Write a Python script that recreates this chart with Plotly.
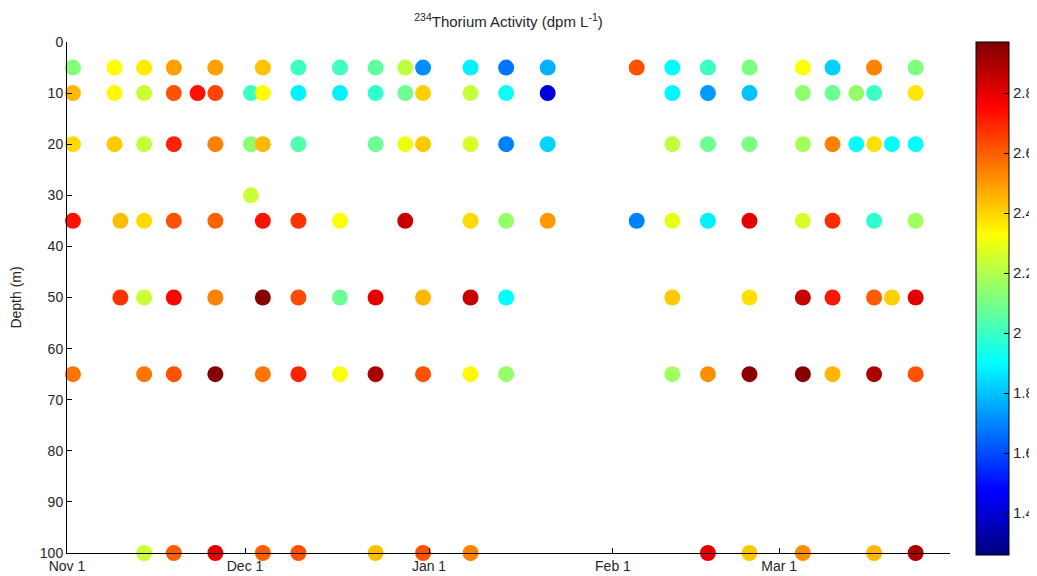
import plotly.graph_objects as go

# ---- data ----
dates_5 = ["2010-11-02", "2010-11-09", "2010-11-14", "2010-11-19", "2010-11-26", "2010-12-04",
           "2010-12-10", "2010-12-17", "2010-12-23", "2010-12-28", "2010-12-31", "2011-01-08",
           "2011-01-14", "2011-01-21", "2011-02-05", "2011-02-11", "2011-02-17", "2011-02-24",
           "2011-03-05", "2011-03-10", "2011-03-17", "2011-03-24"]
thorium_5 = [2.12, 2.33, 2.36, 2.49, 2.49, 2.43, 2.00, 2.01, 2.06, 2.22, 1.71, 1.88,
             1.67, 1.77, 2.62, 1.90, 2.00, 2.11, 2.32, 1.82, 2.54, 2.11]

dates_10 = ["2010-11-02", "2010-11-09", "2010-11-14", "2010-11-19", "2010-11-23", "2010-11-26",
            "2010-12-02", "2010-12-04", "2010-12-10", "2010-12-17", "2010-12-23", "2010-12-28",
            "2010-12-31", "2011-01-08", "2011-01-14", "2011-01-21", "2011-02-11", "2011-02-17",
            "2011-02-24", "2011-03-05", "2011-03-10", "2011-03-14", "2011-03-17", "2011-03-24"]
thorium_10 = [2.45, 2.34, 2.24, 2.62, 2.73, 2.64, 2.00, 2.33, 1.88, 1.88, 1.98, 2.08,
              2.41, 2.23, 1.92, 1.42, 1.89, 1.73, 1.80, 2.14, 2.08, 2.15, 2.00, 2.37]

dates_20 = ["2010-11-02", "2010-11-09", "2010-11-14", "2010-11-19", "2010-11-26", "2010-12-02",
            "2010-12-04", "2010-12-10", "2010-12-23", "2010-12-28", "2010-12-31", "2011-01-08",
            "2011-01-14", "2011-01-21", "2011-02-11", "2011-02-17", "2011-02-24", "2011-03-05",
            "2011-03-10", "2011-03-14", "2011-03-17", "2011-03-20", "2011-03-24"]
thorium_20 = [2.39, 2.42, 2.23, 2.70, 2.54, 2.14, 2.45, 2.04, 2.08, 2.30, 2.42, 2.26,
              1.69, 1.83, 2.22, 2.08, 2.11, 2.18, 2.54, 1.90, 2.38, 1.90, 1.90]

dates_30 = ["2010-12-02"]
thorium_30 = [2.24]

dates_35 = ["2010-11-02", "2010-11-10", "2010-11-14", "2010-11-19", "2010-11-26", "2010-12-04",
            "2010-12-10", "2010-12-17", "2010-12-28", "2011-01-08", "2011-01-14", "2011-01-21",
            "2011-02-05", "2011-02-11", "2011-02-17", "2011-02-24", "2011-03-05", "2011-03-10",
            "2011-03-17", "2011-03-24"]
thorium_35 = [2.73, 2.44, 2.39, 2.62, 2.59, 2.73, 2.67, 2.32, 2.85, 2.39, 2.15, 2.50,
              1.69, 2.29, 1.88, 2.80, 2.26, 2.68, 1.98, 2.17]

dates_50 = ["2010-11-10", "2010-11-14", "2010-11-19", "2010-11-26", "2010-12-04", "2010-12-10",
            "2010-12-17", "2010-12-23", "2010-12-31", "2011-01-08", "2011-01-14", "2011-02-11",
            "2011-02-24", "2011-03-05", "2011-03-10", "2011-03-17", "2011-03-20", "2011-03-24"]
thorium_50 = [2.67, 2.24, 2.75, 2.54, 2.96, 2.63, 2.08, 2.80, 2.45, 2.85, 1.90, 2.42,
              2.38, 2.85, 2.72, 2.60, 2.41, 2.80]

dates_65 = ["2010-11-02", "2010-11-14", "2010-11-19", "2010-11-26", "2010-12-04", "2010-12-10",
            "2010-12-17", "2010-12-23", "2010-12-31", "2011-01-08", "2011-01-14", "2011-02-11",
            "2011-02-17", "2011-02-24", "2011-03-05", "2011-03-10", "2011-03-17", "2011-03-24"]
thorium_65 = [2.56, 2.56, 2.62, 2.96, 2.56, 2.70, 2.32, 2.90, 2.62, 2.34, 2.15, 2.17,
              2.52, 2.95, 2.96, 2.45, 2.90, 2.62]

dates_100 = ["2010-11-14", "2010-11-19", "2010-11-26", "2010-12-04", "2010-12-10", "2010-12-23",
             "2010-12-31", "2011-01-08", "2011-02-17", "2011-02-24", "2011-03-05", "2011-03-17",
             "2011-03-24"]
thorium_100 = [2.24, 2.60, 2.80, 2.60, 2.62, 2.44, 2.62, 2.54, 2.80, 2.42, 2.52, 2.45, 2.90]

depth_levels = [5, 10, 20, 30, 35, 50, 65, 100]
date_rows = [dates_5, dates_10, dates_20, dates_30, dates_35, dates_50, dates_65, dates_100]
value_rows = [thorium_5, thorium_10, thorium_20, thorium_30, thorium_35, thorium_50, thorium_65, thorium_100]

x_tickvals = ["2010-11-01", "2010-12-01", "2011-01-01", "2011-02-01", "2011-03-01"]
x_ticktext = ["Nov 1", "Dec 1", "Jan 1", "Feb 1", "Mar 1"]
y_tickvals = [0, 10, 20, 30, 40, 50, 60, 70, 80, 90, 100]
cbar_tickvals = [1.4, 1.6, 1.8, 2.0, 2.2, 2.4, 2.6, 2.8]
cbar_ticktext = ["1.4", "1.6", "1.8", "2", "2.2", "2.4", "2.6", "2.8"]

# ---- build flat sample table ----
xs, ys, cs = [], [], []
for d, dl, vl in zip(depth_levels, date_rows, value_rows):
    for dt, v in zip(dl, vl):
        xs.append(dt)
        ys.append(d)
        cs.append(v)
# draw in date order so later samples overlap earlier ones
order = sorted(range(len(xs)), key=lambda i: (ys[i], xs[i]))
xs = [xs[i] for i in order]
ys = [ys[i] for i in order]
cs = [cs[i] for i in order]

jet = [
    [0.0, "rgb(0,0,128)"],
    [0.125, "rgb(0,0,255)"],
    [0.375, "rgb(0,255,255)"],
    [0.625, "rgb(255,255,0)"],
    [0.875, "rgb(255,0,0)"],
    [1.0, "rgb(128,0,0)"],
]

FONT = "Liberation Sans, Arial, sans-serif"
TXT = "#262626"

# page body has an 8px default margin, so the figure is sized/offset to compensate
W, H = 1029, 568

fig = go.Figure()
fig.add_trace(go.Scatter(
    x=xs, y=ys, mode="markers", cliponaxis=False,
    marker=dict(
        size=16, color=cs, colorscale=jet, cmin=1.26, cmax=2.97,
        line=dict(width=0),
        colorbar=dict(
            x=1.0294, xanchor="left", xpad=0, ypad=0,
            y=1.0, yanchor="top", lenmode="pixels", len=513,
            thicknessmode="pixels", thickness=33,
            outlinewidth=1, outlinecolor="black",
            tickvals=cbar_tickvals, ticktext=cbar_ticktext,
            ticks="inside", ticklen=5, tickcolor="black",
            tickfont=dict(family=FONT, size=15, color=TXT),
        ),
    ),
    hoverinfo="skip", showlegend=False,
))

fig.update_layout(
    width=W, height=H,
    margin=dict(l=59, r=87, t=34, b=23, autoexpand=False),
    paper_bgcolor="white", plot_bgcolor="white",
    font=dict(family=FONT, size=14, color=TXT),
    title=dict(
        text="<sup>234</sup>Thorium Activity (dpm L<sup>-1</sup>)",
        x=0.5, xref="paper", xanchor="center",
        y=1 - 14 / H, yref="container", yanchor="middle",
        font=dict(family=FONT, size=15, color=TXT),
    ),
    xaxis=dict(
        type="date",
        range=["2010-11-01", "2011-03-29 19:00"],
        tickvals=x_tickvals, ticktext=x_ticktext,
        ticks="inside", ticklen=5, tickcolor="black",
        showline=True, linecolor="black", linewidth=1, mirror=False,
        showgrid=False, zeroline=False, automargin=False,
        tickfont=dict(family=FONT, size=14, color=TXT),
    ),
    yaxis=dict(
        range=[100, 0],
        tickvals=y_tickvals,
        ticks="inside", ticklen=5, tickcolor="black",
        showline=True, linecolor="black", linewidth=1, mirror=False,
        showgrid=False, zeroline=False, automargin=False,
        title=dict(text="Depth (m)", standoff=14, font=dict(family=FONT, size=14, color=TXT)),
        tickfont=dict(family=FONT, size=14, color=TXT),
    ),
)

fig.write_html("out.html")
